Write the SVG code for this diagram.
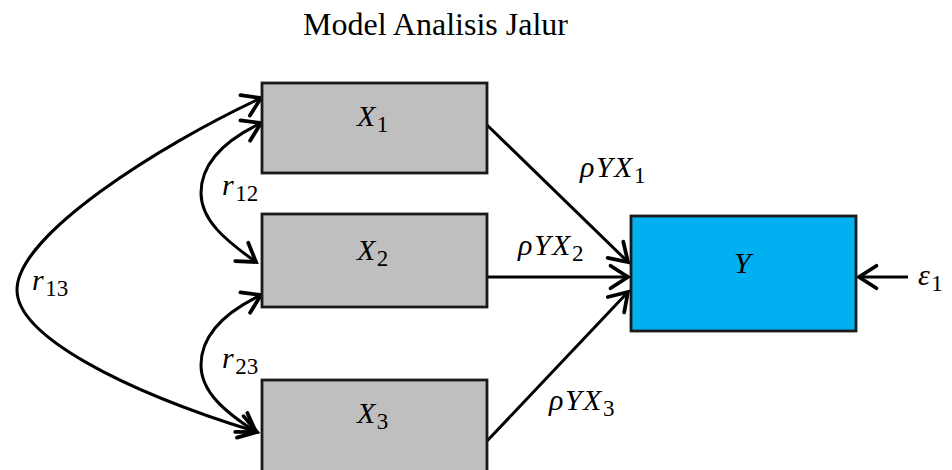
<svg xmlns="http://www.w3.org/2000/svg" width="952" height="470" viewBox="0 0 952 470">
<style>
.box{stroke:#1a1a1a;stroke-width:2.8}
.gray{fill:#BFBFBF}
.blue{fill:#00B0F0}
.m{font-family:"Liberation Serif","Times New Roman",serif;font-style:italic;font-size:30px;letter-spacing:1.5px;fill:#000}
.s{font-style:normal;font-size:23px;letter-spacing:0}
.ln{stroke:#000;stroke-width:3;fill:none}
.title{font-family:"Liberation Serif","Times New Roman",serif;font-size:32px;fill:#000}
</style>
<defs>
<marker id="ah" markerUnits="userSpaceOnUse" markerWidth="30" markerHeight="30" viewBox="-16 -12 20 24" refX="0" refY="0" orient="auto-start-reverse" overflow="visible">
<path d="M -14 -9 L 0 0 L -14 9" fill="none" stroke="#000" stroke-width="3" stroke-linecap="round" stroke-linejoin="miter"/>
</marker>
</defs>
<rect width="952" height="470" fill="#fff"/>
<text class="title" x="435.5" y="35" text-anchor="middle">Model Analisis Jalur</text>

<g id="connectors">
<path class="ln" d="M 487 125 L 628 262" marker-end="url(#ah)"/>
<path class="ln" d="M 487 277 L 628 277" marker-end="url(#ah)"/>
<path class="ln" d="M 487 441 L 628 292" marker-end="url(#ah)"/>
<path class="ln" d="M 908 277 L 859 277" marker-end="url(#ah)"/>
<path class="ln" d="M 261 123 C 215 145, 201 170, 201 193 C 201 220, 225 240, 256 262" marker-start="url(#ah)" marker-end="url(#ah)"/>
<path class="ln" d="M 261 295 C 215 317, 201 342, 201 365 C 201 392, 225 412, 256 432" marker-start="url(#ah)" marker-end="url(#ah)"/>
<path class="ln" d="M 261 98 C 160 145, 17 235, 17 290 C 17 335, 120 390, 257 432" marker-start="url(#ah)" marker-end="url(#ah)"/>
<text class="m" x="222" y="195">r<tspan class="s" dy="6">12</tspan></text>
<text class="m" x="222" y="368">r<tspan class="s" dy="6">23</tspan></text>
<text class="m" x="32" y="290">r<tspan class="s" dy="6">13</tspan></text>
<text class="m" x="580" y="177">ρYX<tspan class="s" dy="6">1</tspan></text>
<text class="m" x="518" y="255">ρYX<tspan class="s" dy="6">2</tspan></text>
<text class="m" x="549" y="410">ρYX<tspan class="s" dy="6">3</tspan></text>
<text class="m" x="918" y="285">ε<tspan class="s" dy="6">1</tspan></text>
</g>

<g id="X1">
<rect class="box gray" x="262" y="83" width="225" height="90"/>
<text class="m" x="357" y="126">X<tspan class="s" dy="6">1</tspan></text>
</g>
<g id="X2">
<rect class="box gray" x="262" y="214" width="225" height="93"/>
<text class="m" x="357" y="260">X<tspan class="s" dy="6">2</tspan></text>
</g>
<g id="X3">
<rect class="box gray" x="262" y="380" width="225" height="93"/>
<text class="m" x="357" y="423">X<tspan class="s" dy="6">3</tspan></text>
</g>
<g id="Y">
<rect class="box blue" x="631" y="216" width="225" height="115"/>
<text class="m" x="743" y="273" text-anchor="middle">Y</text>
</g>
</svg>
